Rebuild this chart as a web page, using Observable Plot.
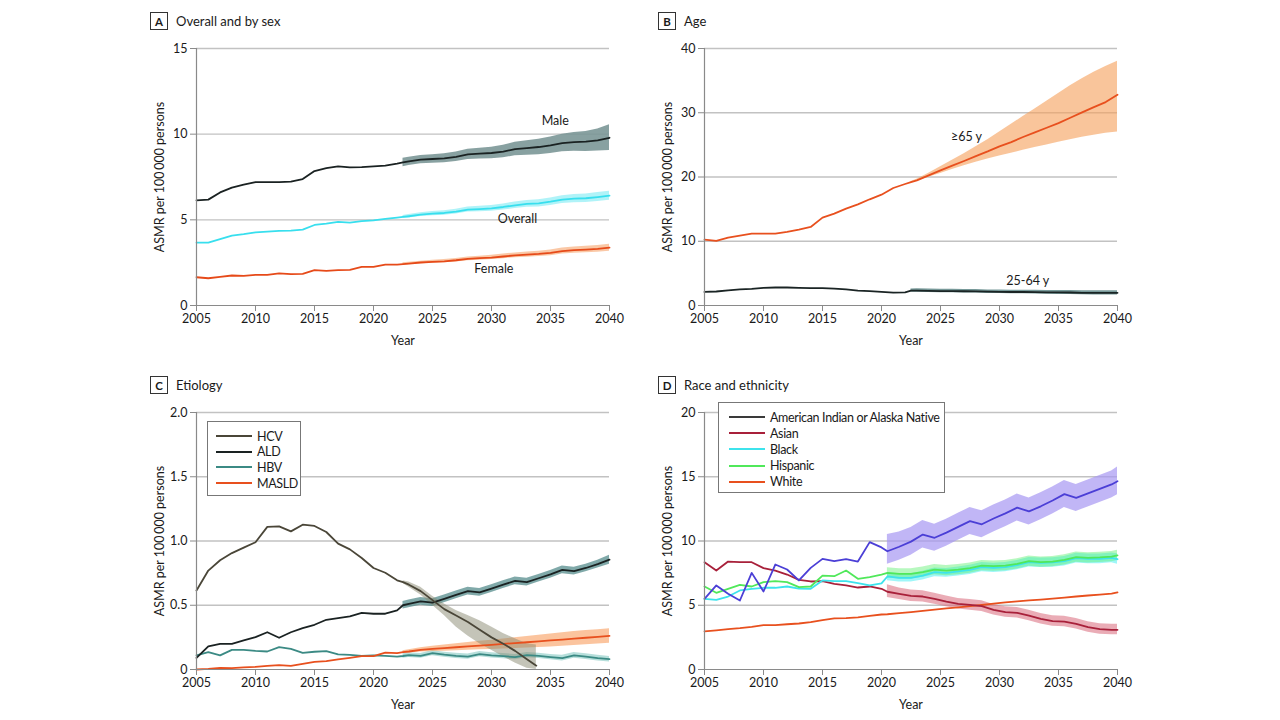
<!DOCTYPE html>
<html><head><meta charset="utf-8">
<script src="https://cdn.jsdelivr.net/npm/d3@7"></script>
<script src="https://cdn.jsdelivr.net/npm/@observablehq/plot@0.6"></script>
<style>
body{margin:0;background:#fff;font-family:Lato,"Open Sans",sans-serif;color:#222}
#root{position:relative;width:1280px;height:720px;overflow:hidden;background:#fff}
.panel{position:absolute}
.ttl{position:absolute;font-size:13px;display:flex;align-items:center;gap:8px;white-space:nowrap;color:#1a1a1a}
.box{width:16px;height:16px;border:1px solid #333;font-weight:bold;font-size:11.5px;display:flex;align-items:center;justify-content:center}
.legend{position:absolute;background:#fff;border:1px solid #777;font-size:12.5px;letter-spacing:-0.35px;box-sizing:border-box;color:#1a1a1a}
.legend .it{position:absolute;display:flex;align-items:center;white-space:nowrap}
.legend .sw{width:36px;height:2px;margin-right:5px}
</style></head>
<body><div id="root"></div>
<script>
// ---------- shared tick labels ----------
const xTicks = [2005, 2010, 2015, 2020, 2025, 2030, 2035, 2040];
const histYearsABC = d3.range(2005, 2023);                 // observed 2005-2022
const projYearsABC = [2022.5, ...d3.range(2023, 2041)];    // projection
const histYearsD = d3.range(2005, 2021);                   // observed 2005-2020
const projYearsD = [...d3.range(2020.5, 2040, 1), 2040];   // projection

// ---------- Panel A: Overall and by sex ----------
const ticksA = [0, 5, 10, 15];
const maleHist = [6.14, 6.18, 6.6, 6.88, 7.05, 7.2, 7.2, 7.2, 7.23, 7.38, 7.85, 8.02, 8.12, 8.06, 8.08, 8.12, 8.16, 8.28];
const maleProj = [8.35, 8.41, 8.51, 8.55, 8.59, 8.68, 8.82, 8.86, 8.9, 8.98, 9.13, 9.19, 9.25, 9.35, 9.48, 9.54, 9.56, 9.64, 9.79];
const maleLo = [8.1, 8.17, 8.27, 8.3, 8.33, 8.4, 8.52, 8.55, 8.57, 8.62, 8.74, 8.77, 8.8, 8.87, 8.97, 9.0, 8.99, 9.02, 9.05];
const maleHi = [8.6, 8.66, 8.76, 8.8, 8.85, 8.96, 9.12, 9.18, 9.24, 9.35, 9.53, 9.62, 9.71, 9.84, 10.0, 10.1, 10.15, 10.3, 10.55];
const overallHist = [3.67, 3.67, 3.87, 4.08, 4.16, 4.27, 4.31, 4.35, 4.37, 4.43, 4.7, 4.78, 4.88, 4.84, 4.93, 4.97, 5.05, 5.13];
const overallProj = [5.17, 5.21, 5.3, 5.36, 5.4, 5.48, 5.6, 5.63, 5.67, 5.75, 5.85, 5.93, 5.96, 6.06, 6.18, 6.24, 6.26, 6.33, 6.41];
const overallLo = [5.08, 5.11, 5.19, 5.24, 5.27, 5.34, 5.45, 5.47, 5.5, 5.57, 5.66, 5.73, 5.75, 5.84, 5.95, 6.0, 6.01, 6.07, 6.15];
const overallHi = [5.26, 5.31, 5.41, 5.48, 5.53, 5.62, 5.75, 5.79, 5.84, 5.93, 6.04, 6.13, 6.17, 6.28, 6.41, 6.48, 6.51, 6.59, 6.67];
const femaleHist = [1.65, 1.59, 1.67, 1.75, 1.73, 1.79, 1.79, 1.87, 1.83, 1.85, 2.06, 2.02, 2.06, 2.08, 2.25, 2.25, 2.39, 2.39];
const femaleProj = [2.42, 2.45, 2.51, 2.55, 2.58, 2.64, 2.72, 2.76, 2.8, 2.86, 2.93, 2.97, 3.01, 3.07, 3.17, 3.23, 3.26, 3.3, 3.38];
const femaleLo = [2.35, 2.38, 2.43, 2.46, 2.49, 2.54, 2.61, 2.64, 2.68, 2.73, 2.79, 2.82, 2.86, 2.91, 3.0, 3.05, 3.08, 3.11, 3.17];
const femaleHi = [2.49, 2.52, 2.59, 2.64, 2.68, 2.74, 2.83, 2.88, 2.93, 3.0, 3.07, 3.12, 3.17, 3.24, 3.35, 3.42, 3.46, 3.5, 3.58];
const labelTextA = ["Male", "Overall", "Female"];
const labelYearA = [2035.4, 2032.2, 2030.2];
const labelValA = [10.78, 5.03, 2.14];

// ---------- Panel B: Age ----------
const ticksB = [0, 10, 20, 30, 40];
const oldHist = [10.26, 10.05, 10.57, 10.88, 11.19, 11.19, 11.19, 11.45, 11.81, 12.23, 13.68, 14.3, 15.08, 15.75, 16.53, 17.25, 18.29, 18.91];
const oldProj = [19.2, 19.48, 20.26, 21.04, 21.76, 22.49, 23.26, 23.99, 24.77, 25.44, 26.22, 26.94, 27.67, 28.39, 29.22, 30.05, 30.88, 31.66, 32.8];
const oldLo = [19.1, 19.35, 19.95, 20.55, 21.15, 21.75, 22.3, 22.8, 23.25, 23.7, 24.15, 24.6, 25.0, 25.4, 25.8, 26.2, 26.5, 26.8, 27.0];
const oldHi = [19.3, 19.65, 20.6, 21.6, 22.6, 23.6, 24.7, 25.8, 27.0, 28.2, 29.4, 30.6, 31.8, 33.0, 34.2, 35.3, 36.3, 37.2, 38.0];
const midHist = [2.12, 2.18, 2.35, 2.5, 2.6, 2.75, 2.8, 2.8, 2.75, 2.7, 2.7, 2.64, 2.5, 2.33, 2.23, 2.12, 2.0, 2.05];
const midProj = [2.3, 2.3, 2.28, 2.25, 2.24, 2.22, 2.2, 2.15, 2.12, 2.1, 2.1, 2.08, 2.05, 2.03, 2.02, 1.98, 1.97, 1.97, 1.97];
const midLo = [2.05, 2.05, 2.03, 2.0, 1.98, 1.96, 1.93, 1.88, 1.85, 1.82, 1.82, 1.79, 1.76, 1.73, 1.72, 1.67, 1.65, 1.65, 1.64];
const midHi = [2.55, 2.6, 2.56, 2.52, 2.51, 2.5, 2.48, 2.43, 2.4, 2.38, 2.39, 2.37, 2.35, 2.33, 2.33, 2.3, 2.3, 2.3, 2.3];
const labelTextB = ["\u226565 y", "25-64 y"];
const labelYearB = [2027.2, 2032.4];
const labelValB = [26.2, 3.78];

// ---------- Panel C: Etiology ----------
const ticksC = [0, 0.5, 1.0, 1.5, 2.0];
const hcvHist = [0.615, 0.77, 0.85, 0.906, 0.948, 0.99, 1.11, 1.114, 1.075, 1.127, 1.117, 1.07, 0.98, 0.935, 0.868, 0.79, 0.753, 0.694];
const hcvProjYears = [2022.5, 2023, 2024, 2025, 2026, 2027, 2028, 2029, 2030, 2031, 2032, 2033, 2033.8];
const hcvProj = [0.68, 0.66, 0.61, 0.54, 0.47, 0.42, 0.37, 0.31, 0.25, 0.2, 0.145, 0.08, 0.03];
const hcvLo = [0.67, 0.64, 0.58, 0.5, 0.42, 0.33, 0.26, 0.2, 0.15, 0.1, 0.05, 0.01, 0.0];
const hcvHi = [0.69, 0.68, 0.64, 0.57, 0.51, 0.46, 0.42, 0.38, 0.33, 0.28, 0.24, 0.2, 0.19];
const aldHist = [0.09, 0.18, 0.2, 0.2, 0.226, 0.252, 0.29, 0.247, 0.29, 0.322, 0.348, 0.387, 0.4, 0.413, 0.44, 0.434, 0.434, 0.46];
const aldProj = [0.5, 0.51, 0.53, 0.52, 0.55, 0.58, 0.61, 0.6, 0.63, 0.66, 0.69, 0.68, 0.71, 0.74, 0.775, 0.765, 0.79, 0.82, 0.855];
const aldLo = [0.47, 0.48, 0.5, 0.49, 0.52, 0.55, 0.58, 0.57, 0.6, 0.63, 0.66, 0.65, 0.68, 0.71, 0.745, 0.735, 0.76, 0.79, 0.82];
const aldHi = [0.53, 0.54, 0.56, 0.55, 0.58, 0.61, 0.64, 0.63, 0.66, 0.69, 0.72, 0.71, 0.74, 0.77, 0.805, 0.795, 0.82, 0.85, 0.89];
const hbvHist = [0.11, 0.135, 0.11, 0.153, 0.153, 0.145, 0.14, 0.174, 0.16, 0.13, 0.138, 0.143, 0.117, 0.114, 0.106, 0.11, 0.106, 0.1];
const hbvProj = [0.105, 0.112, 0.106, 0.127, 0.115, 0.106, 0.1, 0.12, 0.11, 0.104, 0.096, 0.112, 0.106, 0.096, 0.088, 0.11, 0.1, 0.088, 0.08];
const hbvLo = [0.088, 0.093, 0.087, 0.107, 0.095, 0.086, 0.08, 0.1, 0.09, 0.083, 0.075, 0.091, 0.085, 0.075, 0.066, 0.088, 0.078, 0.066, 0.058];
const hbvHi = [0.122, 0.131, 0.125, 0.147, 0.135, 0.126, 0.12, 0.14, 0.13, 0.125, 0.117, 0.133, 0.127, 0.117, 0.11, 0.132, 0.122, 0.11, 0.102];
const masldHist = [0.0, 0.005, 0.013, 0.01, 0.016, 0.02, 0.028, 0.034, 0.028, 0.044, 0.06, 0.065, 0.078, 0.09, 0.104, 0.104, 0.132, 0.127];
const masldProj = [0.135, 0.14, 0.153, 0.16, 0.167, 0.173, 0.18, 0.186, 0.192, 0.199, 0.206, 0.212, 0.219, 0.226, 0.233, 0.24, 0.247, 0.254, 0.262];
const masldLo = [0.125, 0.128, 0.137, 0.14, 0.143, 0.146, 0.15, 0.153, 0.156, 0.16, 0.164, 0.168, 0.172, 0.176, 0.181, 0.186, 0.192, 0.198, 0.205];
const masldHi = [0.145, 0.153, 0.17, 0.18, 0.19, 0.2, 0.21, 0.219, 0.228, 0.238, 0.248, 0.257, 0.266, 0.276, 0.286, 0.295, 0.303, 0.31, 0.318];
const legendC = ["HCV", "ALD", "HBV", "MASLD"];
const legendColorsC = ["#4a4638", "#1a2222", "#3b8a84", "#e8501e"];

// ---------- Panel D: Race and ethnicity ----------
const ticksD = [0, 5, 10, 15, 20];
const aianHist = [5.5, 6.54, 5.89, 5.37, 7.52, 6.07, 8.17, 7.78, 6.93, 7.91, 8.61, 8.43, 8.59, 8.4, 9.91, 9.5];
const aianProj = [9.2, 9.55, 9.95, 10.5, 10.25, 10.65, 11.1, 11.55, 11.3, 11.75, 12.15, 12.6, 12.3, 12.7, 13.15, 13.65, 13.35, 13.7, 14.05, 14.4, 14.65];
const aianLo = [8.2, 8.5, 8.9, 9.45, 9.2, 9.6, 10.05, 10.5, 10.25, 10.7, 11.1, 11.55, 11.25, 11.65, 12.1, 12.6, 12.3, 12.65, 13.0, 13.35, 13.6];
const aianHi = [10.5, 10.7, 11.05, 11.6, 11.3, 11.7, 12.15, 12.6, 12.35, 12.8, 13.2, 13.65, 13.35, 13.75, 14.2, 14.7, 14.4, 14.75, 15.1, 15.45, 15.75];
const asianHist = [8.35, 7.7, 8.4, 8.35, 8.35, 7.89, 7.7, 7.39, 6.98, 6.85, 6.87, 6.67, 6.54, 6.38, 6.46, 6.28];
const asianProj = [6.05, 5.89, 5.73, 5.68, 5.5, 5.29, 5.11, 5.03, 4.93, 4.64, 4.46, 4.41, 4.2, 3.94, 3.76, 3.73, 3.55, 3.29, 3.14, 3.09, 3.09];
const asianLo = [5.6, 5.45, 5.3, 5.25, 5.08, 4.88, 4.7, 4.62, 4.52, 4.24, 4.06, 4.0, 3.8, 3.55, 3.37, 3.33, 3.15, 2.9, 2.75, 2.7, 2.7];
const asianHi = [6.6, 6.35, 6.18, 6.12, 5.93, 5.72, 5.53, 5.45, 5.35, 5.06, 4.88, 4.83, 4.62, 4.36, 4.18, 4.15, 3.97, 3.72, 3.57, 3.52, 3.52];
const blackHist = [5.5, 5.42, 5.68, 6.15, 6.28, 6.36, 6.36, 6.46, 6.3, 6.28, 6.93, 6.87, 6.87, 6.72, 6.54, 6.7];
const blackProj = [7.24, 7.13, 7.13, 7.31, 7.57, 7.52, 7.63, 7.76, 7.96, 7.91, 7.96, 8.12, 8.35, 8.3, 8.33, 8.43, 8.66, 8.61, 8.61, 8.69, 8.58];
const blackLo = [6.9, 6.8, 6.8, 6.97, 7.22, 7.17, 7.28, 7.4, 7.6, 7.55, 7.6, 7.76, 7.98, 7.93, 7.96, 8.06, 8.28, 8.23, 8.23, 8.3, 8.2];
const blackHi = [7.55, 7.45, 7.45, 7.64, 7.9, 7.86, 7.97, 8.11, 8.32, 8.27, 8.32, 8.48, 8.72, 8.67, 8.7, 8.8, 9.04, 8.99, 8.99, 9.07, 9.0];
const hispHist = [6.46, 5.97, 6.28, 6.59, 6.46, 6.8, 6.87, 6.8, 6.41, 6.46, 7.31, 7.26, 7.7, 7.06, 7.19, 7.39];
const hispProj = [7.52, 7.44, 7.44, 7.57, 7.78, 7.7, 7.78, 7.89, 8.09, 8.04, 8.09, 8.22, 8.43, 8.35, 8.4, 8.53, 8.74, 8.69, 8.72, 8.79, 8.88];
const hispLo = [7.12, 7.04, 7.04, 7.17, 7.38, 7.3, 7.38, 7.49, 7.69, 7.64, 7.69, 7.82, 8.03, 7.95, 8.0, 8.13, 8.34, 8.29, 8.32, 8.39, 8.48];
const hispHi = [7.92, 7.84, 7.84, 7.97, 8.18, 8.1, 8.18, 8.29, 8.49, 8.44, 8.49, 8.62, 8.83, 8.75, 8.8, 8.93, 9.14, 9.09, 9.12, 9.19, 9.28];
const whiteHist = [2.96, 3.05, 3.15, 3.22, 3.32, 3.45, 3.45, 3.52, 3.58, 3.68, 3.85, 3.98, 4.0, 4.06, 4.18, 4.28];
const whiteProj = [4.3, 4.38, 4.46, 4.56, 4.66, 4.75, 4.84, 4.93, 5.02, 5.12, 5.22, 5.3, 5.38, 5.44, 5.52, 5.6, 5.68, 5.76, 5.83, 5.9, 6.0];
const legendD = ["American Indian or Alaska Native", "Asian", "Black", "Hispanic", "White"];
const legendColorsD = ["#3a3a3a", "#a8203a", "#3de3ec", "#50e85a", "#e8501e"];

// ---------- helpers ----------
const pts = (xs, ys) => xs.map((x, i) => ({x, y: ys[i]}));
const band = (xs, lo, hi) => xs.map((x, i) => ({x, lo: lo[i], hi: hi[i]}));
const lineMark = (hx, hy, px, py, stroke) =>
  Plot.line([...pts(hx, hy), ...pts(px, py)], {x: "x", y: "y", stroke, strokeWidth: 1.8, curve: "linear"});
const bandMark = (px, lo, hi, fill, op) =>
  Plot.areaY(band(px, lo, hi), {x: "x", y1: "lo", y2: "hi", fill, fillOpacity: op});

const root = document.getElementById("root");

function panel({left, top, letter, title, yTicks, tickFormat, marks}) {
  const t = document.createElement("div");
  t.className = "ttl";
  t.style.left = (left - 46) + "px";
  t.style.top = (top - 36) + "px";
  t.innerHTML = `<div class="box">${letter}</div><span>${title}</span>`;
  root.appendChild(t);
  const svg = Plot.plot({
    width: 489, height: 312,
    marginLeft: 56, marginRight: 20, marginTop: 10, marginBottom: 45,
    style: {fontFamily: "Lato, 'Open Sans', sans-serif", fontSize: "12.5px", color: "#1a1a1a", background: "transparent", overflow: "visible"},
    x: {domain: [2005, 2040]},
    y: {domain: [yTicks[0], yTicks[yTicks.length - 1]]},
    marks: [
      Plot.gridY(yTicks.filter(d => d > 0), {stroke: "#c2c2c2", strokeOpacity: 1, strokeWidth: 1.3}),
      ...marks,
      Plot.ruleY([yTicks[0]], {stroke: "#8a8a8a", strokeWidth: 1.2}),
      Plot.ruleX([2005], {stroke: "#8a8a8a", strokeWidth: 1.2}),
      Plot.axisX(xTicks, {tickSize: 6, tickPadding: 3, stroke: "#8a8a8a", fill: "#1a1a1a", tickFormat: d => String(d),
        label: "Year", labelAnchor: "center", labelOffset: 39, labelArrow: "none"}),
      Plot.axisY(yTicks, {tickSize: 6, tickPadding: 3, stroke: "#8a8a8a", fill: "#1a1a1a", tickFormat,
        label: "ASMR per 100\u2009000 persons", labelAnchor: "center", labelOffset: 41, labelArrow: "none"})
    ]
  });
  const wrap = document.createElement("div");
  wrap.className = "panel";
  wrap.style.left = (left - 56) + "px";
  wrap.style.top = (top - 10) + "px";
  wrap.appendChild(svg);
  root.appendChild(wrap);
}

function legend({left, top, width, height, names, colors, rowTop, rowStep, padLeft}) {
  const L = document.createElement("div");
  L.className = "legend";
  Object.assign(L.style, {left: left + "px", top: top + "px", width: width + "px", height: height + "px"});
  names.forEach((n, i) => {
    const it = document.createElement("div");
    it.className = "it";
    it.style.left = padLeft + "px";
    it.style.top = (rowTop + i * rowStep - 8) + "px";
    it.style.height = "16px";
    it.innerHTML = `<div class="sw" style="background:${colors[i]}"></div><span>${n}</span>`;
    L.appendChild(it);
  });
  root.appendChild(L);
}

const intFmt = d => String(d);

// Panel A
panel({left: 196, top: 48, letter: "A", title: "Overall and by sex", yTicks: ticksA, tickFormat: intFmt, marks: [
  bandMark(projYearsABC, maleLo, maleHi, "#789494", 0.88),
  bandMark(projYearsABC, overallLo, overallHi, "#8eeef5", 0.7),
  bandMark(projYearsABC, femaleLo, femaleHi, "#f7a36b", 0.6),
  lineMark(histYearsABC, femaleHist, projYearsABC, femaleProj, "#e64a19"),
  lineMark(histYearsABC, overallHist, projYearsABC, overallProj, "#38dfee"),
  lineMark(histYearsABC, maleHist, projYearsABC, maleProj, "#1a2222"),
  Plot.text(labelTextA, {x: (d, i) => labelYearA[i], y: (d, i) => labelValA[i], text: d => d, fill: "#1a1a1a", fontSize: 12.5})
]});

// Panel B
panel({left: 704, top: 48, letter: "B", title: "Age", yTicks: ticksB, tickFormat: intFmt, marks: [
  bandMark(projYearsABC, oldLo, oldHi, "#f6a25e", 0.62),
  bandMark(projYearsABC, midLo, midHi, "#557f7f", 0.8),
  lineMark(histYearsABC, oldHist, projYearsABC, oldProj, "#e8501e"),
  lineMark(histYearsABC, midHist, projYearsABC, midProj, "#1a2424"),
  Plot.text(labelTextB, {x: (d, i) => labelYearB[i], y: (d, i) => labelValB[i], text: d => d, fill: "#1a1a1a", fontSize: 12.5})
]});

// Panel C
panel({left: 196, top: 412, letter: "C", title: "Etiology", yTicks: ticksC, tickFormat: d => d === 0 ? "0" : d.toFixed(1), marks: [
  bandMark(projYearsABC, hbvLo, hbvHi, "#6fc0b8", 0.5),
  bandMark(projYearsABC, masldLo, masldHi, "#f7944e", 0.55),
  bandMark(projYearsABC, aldLo, aldHi, "#4a8585", 0.7),
  bandMark(hcvProjYears, hcvLo, hcvHi, "#8a8a72", 0.5),
  lineMark(histYearsABC, hbvHist, projYearsABC, hbvProj, "#3b8a84"),
  lineMark(histYearsABC, masldHist, projYearsABC, masldProj, "#e8501e"),
  lineMark(histYearsABC, aldHist, projYearsABC, aldProj, "#1a2222"),
  lineMark(histYearsABC, hcvHist, hcvProjYears, hcvProj, "#4a4638")
]});
legend({left: 207, top: 421, width: 94, height: 75, names: legendC, colors: legendColorsC, rowTop: 14, rowStep: 15.7, padLeft: 8});

// Panel D
panel({left: 704, top: 412, letter: "D", title: "Race and ethnicity", yTicks: ticksD, tickFormat: intFmt, marks: [
  bandMark(projYearsD, aianLo, aianHi, "#a797f2", 0.7),
  bandMark(projYearsD, asianLo, asianHi, "#d9687a", 0.55),
  bandMark(projYearsD, blackLo, blackHi, "#50eef2", 0.55),
  bandMark(projYearsD, hispLo, hispHi, "#60f070", 0.45),
  lineMark(histYearsD, whiteHist, projYearsD, whiteProj, "#e8501e"),
  lineMark(histYearsD, asianHist, projYearsD, asianProj, "#a8203a"),
  lineMark(histYearsD, blackHist, projYearsD, blackProj, "#3de3ec"),
  lineMark(histYearsD, hispHist, projYearsD, hispProj, "#50e85a"),
  lineMark(histYearsD, aianHist, projYearsD, aianProj, "#4b3fd6")
]});
legend({left: 718, top: 402, width: 227, height: 91, names: legendD, colors: legendColorsD, rowTop: 14, rowStep: 16.2, padLeft: 10});
</script>
</body></html>
